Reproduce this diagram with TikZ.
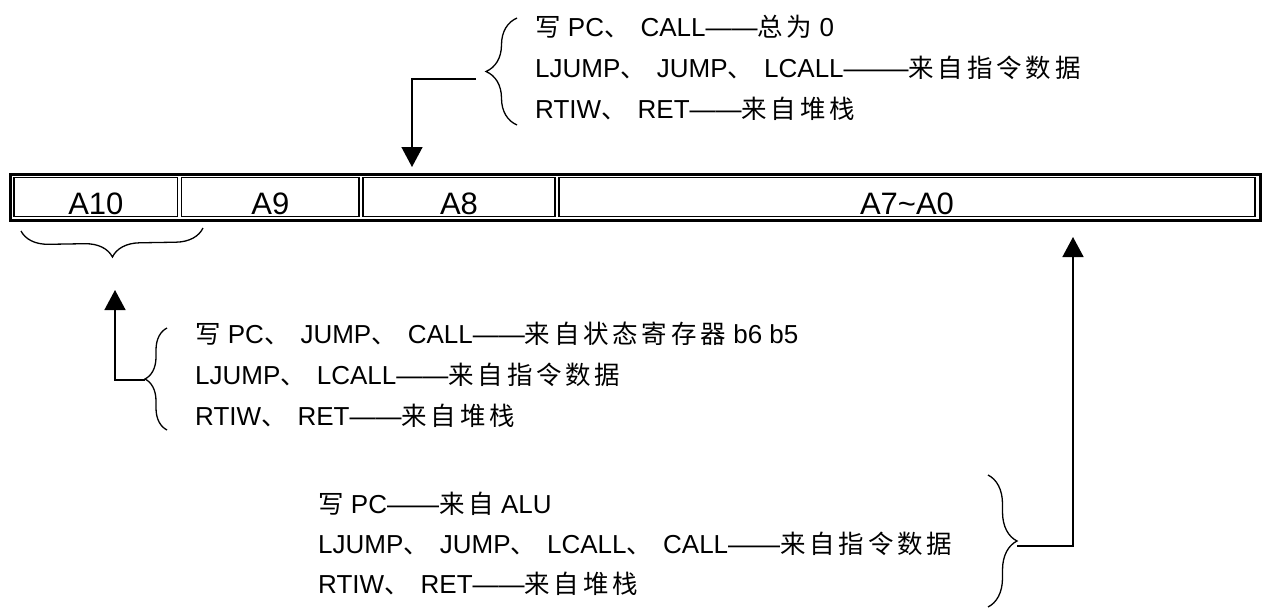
\documentclass[tikz,border=0pt]{standalone}
\usepackage{fontspec}
\usepackage{graphicx}
\setmainfont{Liberation Sans}
\newfontfamily\cjk[LetterSpace=15,Scale=0.98]{Noto Sans CJK SC}
\newcommand\zh[1]{{\cjk #1}}
\newcommand\dun{\zh{、}\hspace{11pt}}
\usetikzlibrary{arrows.meta,decorations.pathreplacing}
\begin{document}
\begin{tikzpicture}[x=1pt,y=-1pt,
  note/.style={font=\fontsize{26}{41}\selectfont, anchor=base west, inner sep=0pt},
  frame/.style={draw, line width=3pt, inner sep=0pt, minimum width=1249.5pt, minimum height=46.5pt},
  cell/.style={draw, line width=1.3pt, inner sep=0pt, minimum height=39pt,
    font=\fontsize{31}{31}\selectfont, text height=36.5pt, text depth=2.5pt},
  brc/.style={draw, line width=1.3pt, decorate, decoration={brace, amplitude=#1}},
  arr/.style={draw, line width=1.5pt, -{Triangle[length=20pt,width=21pt]}}]
\useasboundingbox (0,0) rectangle (1265,608);

% register
\node[frame] (reg) at (635.25,197.25) {};
\node[cell, minimum width=163.7pt] (a10) at (95.85,197) {A10};
\node[cell, minimum width=177.3pt] (a9) at (270.35,197) {A9};
\node[cell, minimum width=192pt] (a8) at (459,197) {A8};
\node[cell, minimum width=696pt] (a70) at (907,197) {A7\char`\~A0};

% top note
\node[note] (t1) at (535,36) {\zh{写} PC\dun CALL——\zh{总为} 0};
\node[note] (t2) at (535,77) {LJUMP\dun JUMP\dun LCALL\scalebox{1.25}[1]{——}\zh{来自指令数据}};
\node[note] (t3) at (535,118) {RTIW\dun RET——\zh{来自堆栈}};
\path[brc=31pt] (517,125) -- (517,18);
\coordinate (tbl) at (476,79);
\coordinate (a8in) at (412,167);
\draw[arr] (tbl) -| (a8in);

% brace under A10 A9
\path[brc=27.5pt] (203,228) -- (21,231);

% left-bottom note
\node[note] (l1) at (195,343) {\zh{写} PC\dun JUMP\dun CALL——\zh{来自状态寄存器} b6 b5};
\node[note] (l2) at (195,384) {LJUMP\dun LCALL——\zh{来自指令数据}};
\node[note] (l3) at (195,425) {RTIW\dun RET——\zh{来自堆栈}};
\path[brc=22pt] (167,430) -- (167,328);
\coordinate (lbt) at (145,380);
\coordinate (a10in) at (115,290);
\draw[arr] (lbt) -| (a10in);

% right-bottom note
\node[note] (r1) at (318,513) {\zh{写} PC——\zh{来自} ALU};
\node[note] (r2) at (318,553) {LJUMP\dun JUMP\dun LCALL\dun CALL——\zh{来自指令数据}};
\node[note] (r3) at (318,593) {RTIW\dun RET——\zh{来自堆栈}};
\path[brc=29pt] (988,475) -- (988,607);
\coordinate (rbt) at (1017,546);
\coordinate (a0in) at (1073,237);
\draw[arr] (rbt) -| (a0in);
\end{tikzpicture}
\end{document}
